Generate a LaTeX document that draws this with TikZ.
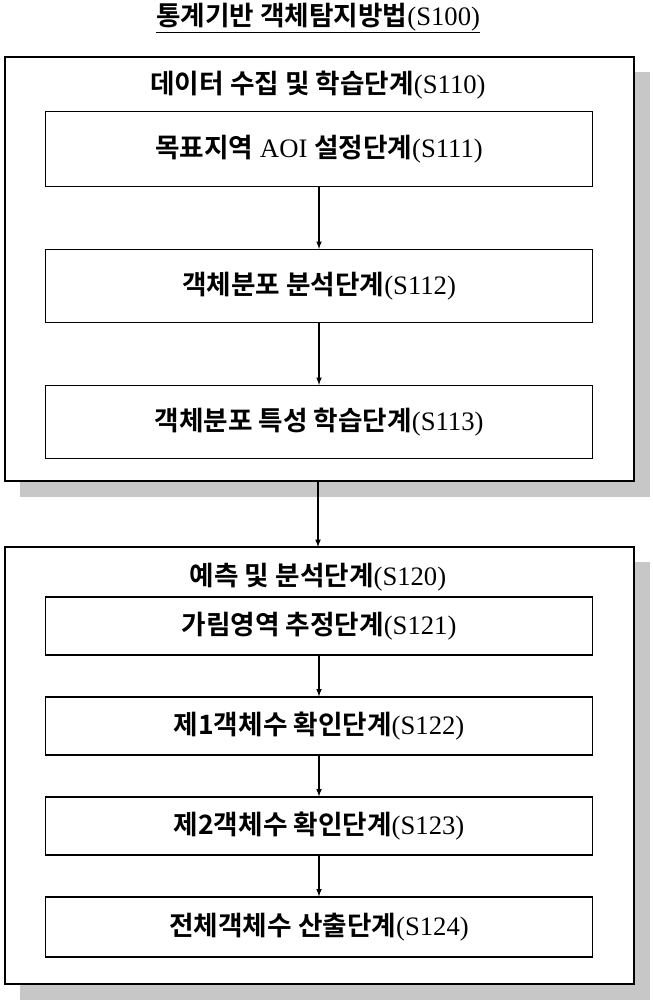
\documentclass[tikz,border=0pt]{standalone}
\usepackage{fontspec}
\setmainfont{Liberation Serif}
\newfontfamily\krfont{Noto Sans CJK KR}[BoldFont={* Bold}]
\newcommand{\kr}[1]{{\krfont\bfseries #1}}
\usetikzlibrary{calc,positioning}

\begin{document}
\begin{tikzpicture}[x=0.75pt,y=-0.75pt,
	font=\fontsize{20}{22}\selectfont,
	outer/.style={draw, line width=1.4pt, fill=white},
	shade/.style={fill=black!22},
	stepbox/.style={draw, line width=0.9pt, fill=white, minimum width=547*0.75pt, inner sep=0pt},
	flow/.style={-latex, line width=0.9pt}]

% frame %{{{1

	\useasboundingbox (0,0) rectangle (653,1003);

% title %{{{1

	\node (title) at (318,18) {\underline{\kr{통계기반 객체탐지방법}(S100)}};

% first stage %{{{1

	\fill[shade] (20,72) rectangle (650,497);
	\draw[outer] (5,57) rectangle (634,481);
	\node (s110) at (318,85) {\kr{데이터 수집 및 학습단계}(S110)};

	\node[stepbox, minimum height=75*0.75pt] (s111) at (319,149) {\kr{목표지역} AOI \kr{설정단계}(S111)};
	\node[stepbox, minimum height=73*0.75pt] (s112) at (319,286) {\kr{객체분포 분석단계}(S112)};
	\node[stepbox, minimum height=73*0.75pt] (s113) at (319,422) {\kr{객체분포 특성 학습단계}(S113)};

% second stage %{{{1

	\fill[shade] (20,562) rectangle (650,1000);
	\draw[outer] (5,547) rectangle (634,984);
	\node (s120) at (318,577) {\kr{예측 및 분석단계}(S120)};

	\node[stepbox, minimum height=58*0.75pt] (s121) at (319,626) {\kr{가림영역 추정단계}(S121)};
	\node[stepbox, minimum height=58*0.75pt] (s122) at (319,726) {\kr{제1객체수 확인단계}(S122)};
	\node[stepbox, minimum height=58*0.75pt] (s123) at (319,826) {\kr{제2객체수 확인단계}(S123)};
	\node[stepbox, minimum height=60*0.75pt] (s124) at (319,927) {\kr{전체객체수 산출단계}(S124)};

% arrows %{{{1

	\coordinate (out1) at (318,481);
	\coordinate (in2) at (318,547);

	\draw[flow] (s111) -- (s112);
	\draw[flow] (s112) -- (s113);
	\draw[flow] (out1) -- (in2);
	\draw[flow] (s121) -- (s122);
	\draw[flow] (s122) -- (s123);
	\draw[flow] (s123) -- (s124);

\end{tikzpicture}
\end{document}
